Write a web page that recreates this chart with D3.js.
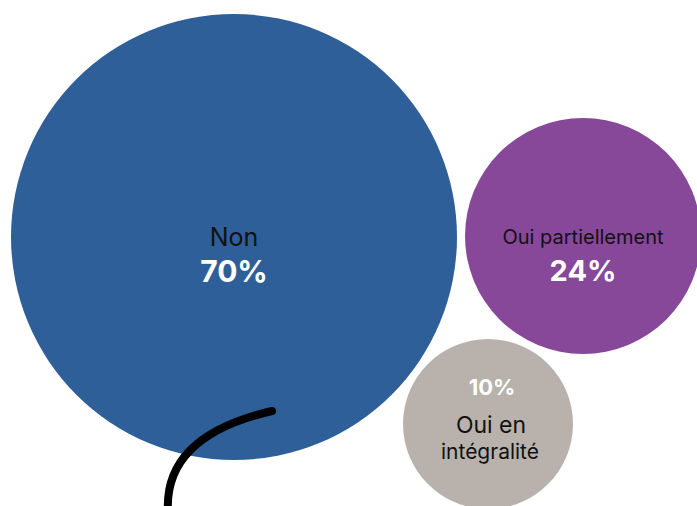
<!DOCTYPE html>
<html><head><meta charset="utf-8">
<script src="https://cdn.jsdelivr.net/npm/d3@7"></script>
<style>body{margin:0;background:#fff}svg{display:block}text{font-family:Inter,"Noto Sans",sans-serif}</style>
</head><body>
<svg id="c" width="697" height="506"></svg>
<script>
const categories = ["Non", "Oui partiellement", "Oui en intégralité"];
const values = [70, 24, 10];
const valueLabels = ["70%", "24%", "10%"];
const colors = ["#2e5f98", "#874899", "#b9b1ab"];

const svg = d3.select("#c");
const rScale = d3.scaleLinear().domain([10, 24, 70]).range([85, 118, 223]);
const centers = [[234, 237], [583, 236], [488, 424]];

const g = svg.selectAll("g.b").data(values).join("g").attr("class", "b")
  .attr("transform", (d, i) => `translate(${centers[i][0]},${centers[i][1]})`);
g.append("circle").attr("r", d => rScale(d)).attr("fill", (d, i) => colors[i]);

// Non
const n0 = d3.select(g.nodes()[0]);
n0.append("text").attr("text-anchor", "middle").attr("y", 9).attr("font-size", 25).attr("fill", "#111").text(categories[0]);
n0.append("text").attr("text-anchor", "middle").attr("y", 45).attr("font-size", 30).attr("font-weight", 700).attr("fill", "#fff").text(valueLabels[0]);
// Oui partiellement
const n1 = d3.select(g.nodes()[1]);
n1.append("text").attr("text-anchor", "middle").attr("y", 8).attr("font-size", 20).attr("fill", "#111").text(categories[1]);
n1.append("text").attr("text-anchor", "middle").attr("y", 45).attr("font-size", 29).attr("font-weight", 700).attr("fill", "#fff").text(valueLabels[1]);
// Oui en intégralité
const n2 = d3.select(g.nodes()[2]);
n2.append("text").attr("text-anchor", "middle").attr("x", 4).attr("y", -29).attr("font-size", 22).attr("font-weight", 700).attr("fill", "#fff").text(valueLabels[2]);
const words = categories[2].split(" ");
n2.append("text").attr("text-anchor", "middle").attr("x", 3).attr("y", 9).attr("font-size", 23).attr("fill", "#111").text(words.slice(0, 2).join(" "));
n2.append("text").attr("text-anchor", "middle").attr("x", 2).attr("y", 35).attr("font-size", 21).attr("fill", "#111").text(words[2]);

// decorative stroke
svg.append("path").attr("d", "M168,512 C165,462 198,428 272,411")
  .attr("fill", "none").attr("stroke", "#000").attr("stroke-width", 8).attr("stroke-linecap", "round");
</script>
</body></html>
